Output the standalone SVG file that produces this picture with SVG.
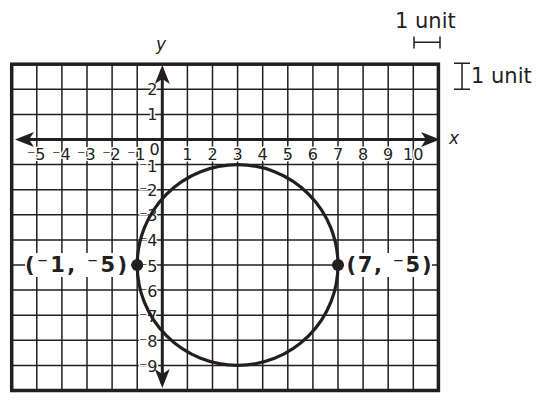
<svg xmlns="http://www.w3.org/2000/svg" width="544" height="407" viewBox="0 0 544 407">
<style>
.grid{stroke:#231f20;stroke-width:1.5;fill:none}
.tick{font-family:"DejaVu Sans",Verdana,sans-serif;font-size:16px;fill:#231f20;stroke:#fff;stroke-width:3;paint-order:stroke;stroke-linejoin:round}
.ax{stroke:#231f20;stroke-width:3;fill:none}
.var{font-family:"DejaVu Sans",Verdana,sans-serif;font-size:17px;font-style:italic;fill:#231f20}
.unit{font-family:"DejaVu Sans",Verdana,sans-serif;font-size:21px;fill:#231f20}
.pt{font-family:"DejaVu Sans",Verdana,sans-serif;font-size:21px;font-weight:bold;fill:#231f20}
.brk{stroke:#231f20;stroke-width:1.5;fill:none}
</style>
<defs>
<marker id="ah" viewBox="-22 -8 22 16" refX="-4" refY="0" markerWidth="22" markerHeight="16" markerUnits="userSpaceOnUse" orient="auto-start-reverse">
<path d="M0,0 L-19,-7.5 L-14,0 L-19,7.5 Z" fill="#231f20"/>
</marker>
</defs>
<rect width="544" height="407" fill="#fff"/>
<g id="grid">
<path class="grid" d="M36.8,64.2V390.5M61.9,64.2V390.5M87,64.2V390.5M112.1,64.2V390.5M137.2,64.2V390.5M187.4,64.2V390.5M212.5,64.2V390.5M237.6,64.2V390.5M262.7,64.2V390.5M287.8,64.2V390.5M312.9,64.2V390.5M338,64.2V390.5M363.1,64.2V390.5M388.2,64.2V390.5M413.3,64.2V390.5M11.7,89.3H438.4M11.7,114.4H438.4M11.7,164.6H438.4M11.7,189.7H438.4M11.7,214.8H438.4M11.7,239.9H438.4M11.7,265H438.4M11.7,290.1H438.4M11.7,315.2H438.4M11.7,340.3H438.4M11.7,365.4H438.4"/>
<rect x="11.7" y="64.2" width="426.7" height="326.3" fill="none" stroke="#231f20" stroke-width="3.5"/>
</g>
<g id="x-labels" class="tick">
<text x="45.5" y="160" text-anchor="end">⁻5</text>
<text x="70.6" y="160" text-anchor="end">⁻4</text>
<text x="95.7" y="160" text-anchor="end">⁻3</text>
<text x="120.8" y="160" text-anchor="end">⁻2</text>
<text x="145.5" y="160" text-anchor="end">⁻1</text>
<text x="154.5" y="155" text-anchor="middle">0</text>
<text x="187.4" y="160" text-anchor="middle">1</text>
<text x="212.5" y="160" text-anchor="middle">2</text>
<text x="237.6" y="160" text-anchor="middle">3</text>
<text x="262.7" y="160" text-anchor="middle">4</text>
<text x="287.8" y="160" text-anchor="middle">5</text>
<text x="312.9" y="160" text-anchor="middle">6</text>
<text x="338" y="160" text-anchor="middle">7</text>
<text x="363.1" y="160" text-anchor="middle">8</text>
<text x="388.2" y="160" text-anchor="middle">9</text>
<text x="413.3" y="160" text-anchor="middle">10</text>
</g>
<g id="y-labels" class="tick" text-anchor="end">
<text x="157.5" y="95.3">2</text>
<text x="157.5" y="120.4">1</text>
<text x="157.5" y="171.5">⁻1</text>
<text x="157.5" y="196.2">⁻2</text>
<text x="157.5" y="221.3">⁻3</text>
<text x="157.5" y="246.4">⁻4</text>
<text x="157.5" y="271.5">⁻5</text>
<text x="157.5" y="296.6">⁻6</text>
<text x="157.5" y="321.7">⁻7</text>
<text x="157.5" y="346.8">⁻8</text>
<text x="157.5" y="371.9">⁻9</text>
</g>
<g id="axes">
<path class="ax" d="M19,139.5H436" marker-start="url(#ah)" marker-end="url(#ah)"/>
<path class="ax" d="M162.3,69V384" marker-start="url(#ah)" marker-end="url(#ah)"/>
<text class="var" x="449" y="144">x</text>
<text class="var" x="161" y="50" text-anchor="middle">y</text>
</g>
<g id="circle">
<circle cx="237.6" cy="265" r="100.4" fill="none" stroke="#231f20" stroke-width="3.2"/>
</g>
<g id="point-left">
<rect x="25" y="253" width="106" height="24" fill="#fff"/>
<text class="pt" x="25" y="272" textLength="102" lengthAdjust="spacing">(⁻1, ⁻5)</text>
<circle cx="137.2" cy="265" r="6" fill="#231f20"/>
</g>
<g id="point-right">
<rect x="344" y="253" width="88" height="24" fill="#fff"/>
<text class="pt" x="346.5" y="272" textLength="85" lengthAdjust="spacing">(7, ⁻5)</text>
<circle cx="338" cy="265" r="6" fill="#231f20"/>
</g>
<g id="scale">
<text class="unit" x="395" y="28">1 unit</text>
<path class="brk" d="M414,36.5V48.5M440,36.5V48.5M414,42.3H440"/>
<path class="brk" d="M454,63.3H470M454,89.3H470M462,63.3V89.3"/>
<text class="unit" x="471" y="83">1 unit</text>
</g>
</svg>
